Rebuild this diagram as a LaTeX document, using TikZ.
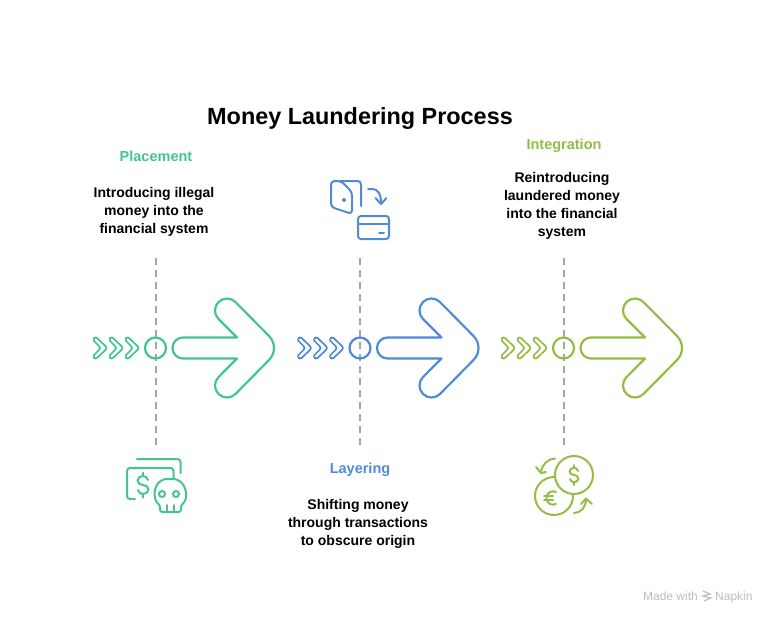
\documentclass[tikz,border=0pt]{standalone}
\usepackage{fontspec}
\setmainfont{Liberation Sans}
\definecolor{placement}{HTML}{45C58E}
\definecolor{layering}{HTML}{4F8BD9}
\definecolor{integration}{HTML}{94BD45}
\definecolor{guide}{HTML}{A6A6A6}
\definecolor{brand}{HTML}{BDBDBD}
\tikzset{
	outline/.style={line width=2.2pt,line join=round,line cap=round},
	icon/.style={line width=2pt,line join=round,line cap=round},
	guideline/.style={draw=guide,line width=2pt,dash pattern=on 7pt off 5pt},
	heading/.style={font=\bfseries\fontsize{14.5}{18}\selectfont,align=center},
	body/.style={font=\bfseries\fontsize{14}{18}\selectfont,align=center},
	dollar/.pic={
		\draw (5,-5) .. controls (4,-8) and (2,-9) .. (0,-9) .. controls (-3,-9) and (-5.5,-7) .. (-5.5,-4.5) .. controls (-5.5,-1.5) and (-3,-0.5) .. (0,0) .. controls (3,0.5) and (5.5,1.5) .. (5.5,4.5) .. controls (5.5,7) and (3,9) .. (0,9) .. controls (-2,9) and (-4,8) .. (-5,5);
		\draw (0,-9) -- (0,-12.5) (0,9) -- (0,12.5);
	}
}
\begin{document}
\begin{tikzpicture}[x=1pt,y=-1pt,inner sep=0pt]
	\useasboundingbox (0,0) rectangle (776,624);
	\fill [white] (0,0) rectangle (776,624);

	\node [font=\bfseries\fontsize{23.4}{28}\selectfont] (title) at (360,118) {Money Laundering Process};

	\foreach [count=\n] \x/\c in {155.5/placement,360/layering,563.5/integration}{
		\coordinate (top \n) at (\x,258);
		\coordinate (bottom \n) at (\x,445);
		\draw [guideline] (top \n) -- (bottom \n);
		\node [draw=\c,circle,line width=2.2pt,minimum size=21pt] (hub \n) at (\x,348) {};
		\begin{scope}[shift={(\x,348)},draw=\c,outline]
			\foreach \d in {0,16,32}{
				\draw [line width=1.7pt,rounded corners=2.5pt,xshift=\d pt] (-60,-11.5) -- (-48,0) -- (-60,11.5) -- (-63,8.5) -- (-54.5,0) -- (-63,-8.5) -- cycle;
			}
			\draw (27.5,-10.5) -- (81.5,-10.5) -- (63,-29) arc [start angle=135,end angle=315,radius=12] -- (113.5,-12) .. controls (120.14,-5.36) and (120.14,5.36) .. (113.5,12) -- (80,46) arc [start angle=45,end angle=225,radius=12] -- (81.5,10.5) -- (27.5,10.5) arc [start angle=90,end angle=270,radius=10.5] -- cycle;
		\end{scope}
	}

	\node [heading,text=placement] (placement label) at (156,156) {Placement};
	\node [body] (placement text) at (154,212) {Introducing illegal\\money into the\\financial system};

	\node [heading,text=layering] (layering label) at (360,470) {Layering};
	\node [body] (layering text) at (358,524) {Shifting money\\through transactions\\to obscure origin};

	\node [heading,text=integration] (integration label) at (564,146) {Integration};
	\node [body] (integration text) at (562,206) {Reintroducing\\laundered money\\into the financial\\system};

	% money and skull
	\begin{scope}[draw=placement,icon]
		\draw [rounded corners=3pt] (137,459) -- (180.5,459) -- (180.5,473);
		\draw [rounded corners=3pt] (135,499) -- (127,499) -- (127,468) -- (173.5,468) -- (173.5,478);
		\pic [draw=placement] at (143,485) {dollar};
		\draw [rounded corners=2.5pt] (160,505) .. controls (152,499) and (153,479) .. (170,479) .. controls (187,479) and (189,499) .. (181,505) -- (181,512) -- (160,512) -- cycle;
		\draw (162,494) circle [radius=3] (176,494) circle [radius=3];
		\draw (167,505) -- (167,512) (174,505) -- (174,512);
	\end{scope}

	% wallet and card
	\begin{scope}[draw=layering,icon]
		\draw [rounded corners=3.5pt] (331,181) -- (331,207) -- (352,214) -- (352,192) -- (341,181) -- cycle;
		\draw [rounded corners=3.5pt] (340,181) -- (361,181) -- (361,206);
		\fill [layering] (344,200) circle [radius=2];
		\draw (368,189) -- (372,189) .. controls (378,189) and (381,194) .. (381,203);
		\draw (375.5,198) -- (381,204) -- (386.5,198);
		\draw [rounded corners=3pt] (358,216) rectangle (389,239);
		\draw (358,223.5) -- (389,223.5);
		\draw (379,232.5) -- (384,232.5);
	\end{scope}

	% coins
	\begin{scope}[draw=integration,icon]
		\draw (554,496) circle [radius=19];
		\draw [fill=white] (574,475) circle [radius=19];
		\pic [draw=integration,scale=0.8] at (574,475) {dollar};
		\draw (556,492) .. controls (553,490.5) and (547,491) .. (546.5,498) .. controls (547,505) and (553,505.5) .. (556,504);
		\draw (544,496) -- (553,496) (544,500) -- (553,500);
		\draw (555,458.5) .. controls (548,459) and (542,464) .. (541,472);
		\draw (536,467) -- (541,473) -- (546,472);
		\draw (574,513) .. controls (581,513) and (586,507) .. (586,499);
		\draw (581,504) -- (586,498.5) -- (592,504);
	\end{scope}

	% made with
	\node [text=brand,font=\fontsize{12}{14}\selectfont,anchor=base east] (made) at (698,600) {Made with};
	\node [text=brand,font=\fontsize{12}{14}\selectfont,anchor=base west] (napkin) at (715,600) {Napkin};
	\draw [brand,line width=1.2pt] (703,591) -- (710,594) -- (703,596) -- (711,598) -- (704,601);
\end{tikzpicture}
\end{document}
